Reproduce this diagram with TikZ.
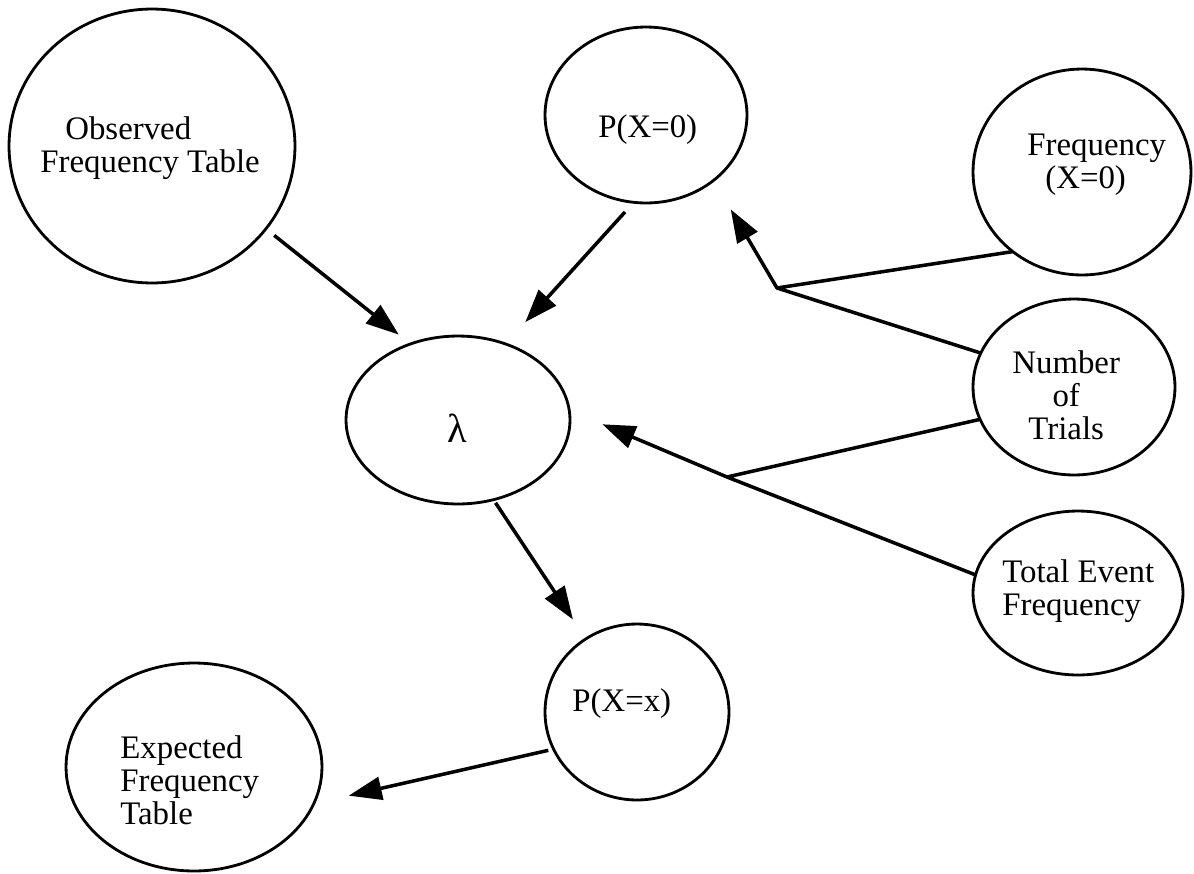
\documentclass[tikz,border=0pt]{standalone}
\usepackage{fontspec}
\setmainfont{Liberation Serif}
\usetikzlibrary{arrows.meta,shapes.geometric}
\begin{document}
\begin{tikzpicture}[x=0.02cm,y=-0.02cm,
  ell/.style={draw, ellipse, line width=1.6pt, inner sep=0pt, outer sep=0pt},
  lbl/.style={anchor=base west, inner sep=0pt, font=\fontsize{18.7}{18.8}\selectfont},
  link/.style={line width=2pt, line join=round},
  arr/.style={link, -{Triangle[length=0.66cm,width=0.46cm]}}]
\useasboundingbox (0,0) rectangle (1194,873);

\node[ell, minimum width=5.72cm, minimum height=5.48cm] (obs) at (152,146) {};
\node[lbl] (obsT) at (40,139) {\begin{tabular}[t]{@{}l@{}}\hspace*{0.5cm}Observed\\Frequency Table\end{tabular}};

\node[ell, minimum width=4.04cm, minimum height=3.52cm] (p0) at (646,115) {};
\node[lbl] (p0T) at (598,137) {P(X=0)};

\node[ell, minimum width=4.36cm, minimum height=4.12cm] (f0) at (1082,172) {};
\node[lbl] (f0T) at (1027,155) {\begin{tabular}[t]{@{}l@{}}Frequency\\\hspace*{0.36cm}(X=0)\end{tabular}};

\node[ell, minimum width=4.48cm, minimum height=3.36cm] (lam) at (458,420) {};
\node[lbl, font=\fontsize{23}{24}\selectfont] (lamT) at (447,442) {λ};

\node[ell, minimum width=4.04cm, minimum height=3.52cm] (nt) at (1074,387) {};
\node[lbl] (ntT) at (1012,373) {\begin{tabular}[t]{@{}c@{}}Number\\of\\Trials\end{tabular}};

\node[ell, minimum width=4.20cm, minimum height=3.28cm] (te) at (1078,593) {};
\node[lbl] (teT) at (1002,582) {\begin{tabular}[t]{@{}l@{}}Total Event\\Frequency\end{tabular}};

\node[ell, minimum width=3.68cm, minimum height=3.52cm] (px) at (637,712) {};
\node[lbl] (pxT) at (572,711) {P(X=x)};

\node[ell, minimum width=5.12cm, minimum height=4.16cm] (exp) at (194,767) {};
\node[lbl] (expT) at (120,758) {\begin{tabular}[t]{@{}l@{}}Expected\\Frequency\\Table\end{tabular}};

\coordinate (j1) at (777,288);
\coordinate (j2) at (727,477);

\draw[arr, shorten <=0.212cm, shorten >=0.298cm] (obs.-36.9) -- (lam.122.5);
\draw[arr, shorten <=0.26cm, shorten >=0.59cm] (p0.-98) -- (lam.58.2);
\draw[link] (f0.-131.9) -- (j1) -- (nt.160.3);
\draw[arr, shorten >=0.674cm] (j1) -- (p0.-44.8);
\draw[link] (nt.-161) -- (j2) -- (te.170.1);
\draw[arr, shorten >=0.72cm] (j2) -- (lam.5.8);
\draw[arr, shorten <=0.076cm, shorten >=0.466cm] (lam.-66.4) -- (px.125.8);
\draw[arr, shorten <=0.11cm, shorten >=0.718cm] (px.-156.3) -- (exp.-17.9);
\end{tikzpicture}
\end{document}
